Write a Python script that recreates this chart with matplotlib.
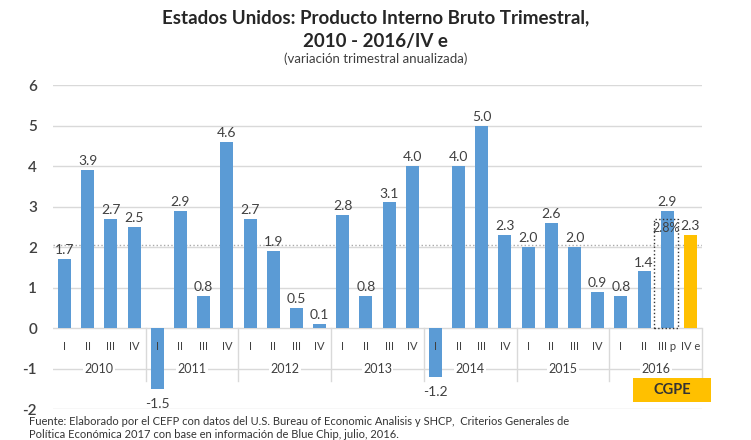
import matplotlib.pyplot as plt
from matplotlib.patches import Rectangle

plt.rcParams['font.family'] = ['Lato', 'DejaVu Sans']

# Datos: variación trimestral anualizada del PIB de EE.UU.
years = ['2010', '2011', '2012', '2013', '2014', '2015', '2016']
quarters = ['I', 'II', 'III', 'IV'] * 6 + ['I', 'II', 'III p', 'IV e']
values = [1.7, 3.9, 2.7, 2.5,
          -1.5, 2.9, 0.8, 4.6,
          2.7, 1.9, 0.5, 0.1,
          2.8, 0.8, 3.1, 4.0,
          -1.2, 4.0, 5.0, 2.3,
          2.0, 2.6, 2.0, 0.9,
          0.8, 1.4, 2.9, 2.3]
cgpe_value = 2.8

blue = '#5B9BD5'
orange = '#FFC000'
text_col = '#404040'

fig = plt.figure(figsize=(7.51, 4.40), dpi=100)
ax = fig.add_axes([53 / 751, 1 - 409 / 440, 649 / 751, 324 / 440])

x = list(range(len(values)))
colors = [blue] * (len(values) - 1) + [orange]
ax.bar(x, values, width=0.56, color=colors, zorder=3)

# etiquetas de valores
for xi, v in zip(x, values):
    if v >= 0:
        ax.annotate(f'{v:.1f}', (xi, v), xytext=(0, 2), textcoords='offset points',
                    ha='center', va='bottom', fontsize=10, color=text_col, zorder=4)
    else:
        ax.annotate(f'{v:.1f}', (xi, v), xytext=(0, -7), textcoords='offset points',
                    ha='center', va='top', fontsize=10, color=text_col, zorder=4)

# rectángulo punteado de la estimación CGPE
ax.add_patch(Rectangle((25.42, 0), 1.04, 2.7, fill=False, ls=':', lw=1.0,
                       edgecolor='#333333', zorder=5))
ax.text(25.93, 2.47, f'{cgpe_value:.1f}%', ha='center', va='center',
        fontsize=9, color=text_col, zorder=6)

# ejes y cuadrícula
ax.set_xlim(-0.5, len(values) - 0.5)
ax.set_ylim(-2, 6)
ax.set_yticks(range(-2, 7))
ax.set_yticklabels([str(t) for t in range(-2, 7)], fontsize=11, color=text_col,
                   fontweight='semibold')
ax.tick_params(axis='y', length=0, pad=11.5)
ax.set_xticks([])
for s in ax.spines.values():
    s.set_visible(False)
ax.grid(axis='y', color='#d9d9d9', lw=1.0, zorder=0)
ax.axhline(2.05, color='#aaaaaa', ls=':', lw=1.0, zorder=1)

# etiquetas de categorías (trimestre y año)
for xi, q in zip(x, quarters):
    ax.text(xi, -0.45, q, ha='center', va='center', fontsize=8, color=text_col, zorder=4)
for i, yr in enumerate(years):
    ax.text(4 * i + 1.5, -1.0, yr, ha='center', va='center', fontsize=9,
            color=text_col, zorder=2, bbox=dict(facecolor='white', edgecolor='none', pad=1))
for b in [3.5, 7.5, 11.5, 15.5, 19.5, 23.5, 27.5]:
    ax.plot([b, b], [0, -1.3], color='#d9d9d9', lw=1.0, zorder=1, clip_on=False)

# recuadro CGPE
fig.patches.append(Rectangle((633 / 751, 1 - 402 / 440), 78 / 751, 24 / 440,
                             transform=fig.transFigure, facecolor=orange, edgecolor='none'))
fig.text(672 / 751, 1 - 390 / 440, 'CGPE', ha='center', va='center', fontsize=10.5,
         fontweight='bold', color='#333333')

# títulos
fig.text(0.5, 1 - 18 / 440, 'Estados Unidos: Producto Interno Bruto Trimestral,',
         ha='center', va='center', fontsize=13.5, fontweight='bold', color='#262626')
fig.text(0.5, 1 - 41 / 440, '2010 - 2016/IV e', ha='center', va='center',
         fontsize=13.5, fontweight='bold', color='#262626')
fig.text(0.5, 1 - 59 / 440, '(variación trimestral anualizada)', ha='center',
         va='center', fontsize=9.5, color=text_col)

# fuente
fig.text(29 / 751, 1 - 425 / 440,
         'Fuente: Elaborado por el CEFP con datos del U.S. Bureau of Economic Analisis y SHCP,  Criterios Generales de',
         ha='left', va='baseline', fontsize=8, color='#333333')
fig.text(29 / 751, 1 - 437.5 / 440,
         'Política Económica 2017 con base en información de Blue Chip, julio, 2016.',
         ha='left', va='baseline', fontsize=8, color='#333333')

plt.savefig('out.png', dpi=100)
